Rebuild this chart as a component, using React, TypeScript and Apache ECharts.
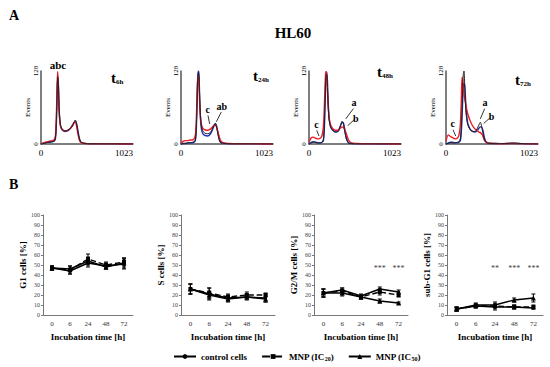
import React, { useEffect, useRef } from 'react';
import * as echarts from 'echarts';

const SERIF = "'Liberation Serif', 'Times New Roman', serif";

// ---- Panel A: DNA histograms (channel 0..1023, events 0..128)
const channels = [0, 25, 50, 75, 100, 125, 145, 160, 170, 178, 185, 192, 200, 210, 222, 240, 265, 295, 325, 350, 368, 382, 395, 410, 425, 440, 460, 490, 540, 620, 750, 900, 1023];

const t6Control = [0, 1, 2, 3, 4, 4, 5, 10, 35, 80, 118, 112, 70, 42, 30, 25, 23, 24, 27, 32, 38, 42, 36, 22, 10, 4, 2, 1, 0.5, 0.3, 0.2, 0.1, 0];
const t6IC20 = [0, 1, 2, 3, 3, 4, 5, 9, 32, 78, 115, 110, 68, 40, 29, 24, 22, 23, 27, 33, 38, 40, 36, 24, 11, 4, 2, 1, 0.5, 0.3, 0.2, 0.1, 0];
const t6IC50 = [0, 2, 3, 4, 5, 6, 7, 14, 45, 95, 127, 108, 62, 38, 29, 25, 23, 24, 27, 32, 37, 39, 32, 18, 8, 3, 1.5, 1, 0.5, 0.3, 0.2, 0.1, 0];

const t24Control = [0, 1, 1, 2, 2, 3, 4, 8, 28, 70, 110, 125, 118, 72, 38, 24, 19, 18, 20, 27, 33, 35, 30, 18, 8, 3, 1.5, 1, 0.5, 0.3, 0.2, 0.1, 0];
const t24IC20 = [0, 1, 1, 2, 2, 2, 3, 6, 25, 68, 112, 128, 122, 70, 32, 19, 15, 14, 17, 25, 32, 36, 32, 20, 8, 3, 1.5, 1, 0.5, 0.3, 0.2, 0.1, 0];
const t24IC50 = [1, 5, 6, 6, 7, 7, 9, 16, 40, 85, 112, 120, 104, 62, 38, 28, 25, 24, 26, 30, 33, 33, 30, 22, 13, 6, 3, 1.5, 0.8, 0.4, 0.2, 0.1, 0];

const t48Control = [0, 2, 3, 3, 2, 2, 3, 8, 30, 72, 108, 122, 118, 80, 45, 30, 24, 21, 22, 32, 40, 36, 24, 12, 5, 2, 1, 0.5, 0.3, 0.2, 0.1, 0.1, 0];
const t48IC20 = [0, 3, 4, 3, 2, 2, 3, 6, 25, 65, 105, 125, 126, 88, 48, 30, 24, 21, 23, 32, 38, 37, 28, 14, 6, 2, 1, 0.5, 0.3, 0.2, 0.1, 0.1, 0];
const t48IC50 = [3, 11, 12, 10, 9, 10, 15, 30, 62, 100, 124, 127, 110, 75, 48, 34, 27, 24, 24, 28, 30, 29, 26, 20, 13, 7, 3, 1.5, 0.8, 0.4, 0.2, 0.1, 0];

const t72Control = [0, 1, 2, 2, 2, 3, 4, 10, 30, 62, 95, 122, 128, 95, 55, 35, 26, 22, 22, 28, 34, 38, 32, 20, 9, 4, 2, 1, 0.8, 0.6, 1.5, 0.3, 0];
const t72IC20 = [0, 2, 3, 3, 2, 2, 3, 6, 20, 45, 75, 98, 106, 100, 65, 38, 27, 22, 21, 24, 28, 30, 30, 24, 13, 5, 2, 1, 0.8, 0.6, 1.2, 0.3, 0];
const t72IC50 = [5, 16, 13, 11, 9, 10, 16, 35, 75, 117, 112, 98, 88, 78, 68, 54, 42, 32, 26, 23, 21, 20, 18, 14, 7, 4, 2, 1.2, 0.8, 0.5, 1, 0.3, 0];

const histTimes = ['6h', '24h', '48h', '72h'];

// arrow annotations in data space: [label, fromX, fromY, toX, toY]
const t24Arrows: [string, number, number, number, number][] = [
  ['c', 300, 50, 319, 35],
  ['ab', 448, 56, 393, 39],
];
const t48Arrows: [string, number, number, number, number][] = [
  ['a', 493, 62, 408, 44],
  ['b', 512, 44, 430, 32],
  ['c', 86, 24, 111, 14],
];
const t72Arrows: [string, number, number, number, number][] = [
  ['a', 430, 62, 381, 44],
  ['b', 497, 47, 419, 36],
  ['c', 78, 25, 108, 14],
];

// ---- Panel B: cell-cycle phases
const timeLabels = ['0', '6', '24', '48', '72'];

const g1Control = [47, 44, 52, 49, 51];
const g1IC20 = [47, 45, 56, 50, 53];
const g1IC50 = [47, 46, 54, 48, 52];
const g1ControlSd = [2, 3, 4, 3, 5];
const g1IC20Sd = [2, 4, 5, 3, 4];
const g1IC50Sd = [2, 3, 4, 2, 5];

const sControl = [26, 21, 17, 18, 17];
const sIC20 = [26, 22, 18, 20, 20];
const sIC50 = [26, 20, 16, 18, 16];
const sControlSd = [5, 6, 3, 3, 4];
const sIC20Sd = [5, 5, 3, 3, 2];
const sIC50Sd = [5, 4, 3, 2, 3];

const g2mControl = [22, 25, 19, 26, 23];
const g2mIC20 = [22, 24, 18, 23, 20];
const g2mIC50 = [22, 22, 18, 14, 12];
const g2mControlSd = [4, 2, 2, 2, 2];
const g2mIC20Sd = [4, 3, 2, 3, 2];
const g2mIC50Sd = [4, 3, 2, 2, 1];

const subG1Control = [6, 9, 8, 8, 7];
const subG1IC20 = [6, 9, 9, 8, 8];
const subG1IC50 = [6, 10, 10, 15, 17];
const subG1ControlSd = [2, 2, 3, 2, 1];
const subG1IC20Sd = [2, 2, 2, 2, 2];
const subG1IC50Sd = [2, 2, 3, 2, 4];

const g1Stars = ['', '', '', '', ''];
const sStars = ['', '', '', '', ''];
const g2mStars = ['', '', '', '***', '***'];
const subG1Stars = ['', '', '**', '***', '***'];

const phaseNames = ['G1 cells [%]', 'S cells [%]', 'G2/M cells [%]', 'sub-G1 cells [%]'];

export default function App() {
  const ref = useRef<HTMLDivElement>(null);

  useEffect(() => {
    if (!ref.current) return;
    const chart = echarts.init(ref.current, undefined, { renderer: 'svg' });

    const histData = [
      [t6Control, t6IC20, t6IC50],
      [t24Control, t24IC20, t24IC50],
      [t48Control, t48IC20, t48IC50],
      [t72Control, t72IC20, t72IC50],
    ];
    const histArrows = [[], t24Arrows, t48Arrows, t72Arrows];
    const histLeft = [41, 181, 309, 446];

    const lineData = [
      [g1Control, g1IC20, g1IC50, g1ControlSd, g1IC20Sd, g1IC50Sd, g1Stars],
      [sControl, sIC20, sIC50, sControlSd, sIC20Sd, sIC50Sd, sStars],
      [g2mControl, g2mIC20, g2mIC50, g2mControlSd, g2mIC20Sd, g2mIC50Sd, g2mStars],
      [subG1Control, subG1IC20, subG1IC50, subG1ControlSd, subG1IC20Sd, subG1IC50Sd, subG1Stars],
    ];
    const lineLeft = [43, 181, 314, 447];
    const lineWidth = [90, 94, 94, 96];

    const grids: any[] = [];
    const xAxes: any[] = [];
    const yAxes: any[] = [];
    const series: any[] = [];

    histData.forEach((curves, i) => {
      grids.push({ left: histLeft[i], top: 71, width: 92, height: 73 });
      xAxes.push({
        gridIndex: i, type: 'value', min: 0, max: 1023, interval: 1023,
        axisLine: { lineStyle: { color: '#555', width: 1.5 } },
        axisTick: { show: false }, splitLine: { show: false },
        axisLabel: { fontSize: 9, fontFamily: SERIF, color: '#000', margin: 4, alignMaxLabel: 'right', formatter: (v: number) => String(v) },
      });
      yAxes.push({
        gridIndex: i, type: 'value', min: 0, max: 128, interval: 128,
        name: 'Events', nameLocation: 'middle', nameGap: 9,
        nameTextStyle: { fontSize: 7, fontFamily: SERIF, color: '#000' },
        axisLine: { show: true, lineStyle: { color: '#555', width: 1.5 } },
        axisTick: { show: false }, splitLine: { show: false },
        axisLabel: { fontSize: 7, fontFamily: SERIF, color: '#000', rotate: 90, margin: 2, formatter: (v: number) => String(v) },
      });
      const colors = ['#222222', '#2230b0', '#ee1c24'];
      const order = [1, 2, 0];
      order.forEach((k) => {
        const s: any = {
          type: 'line', name: 'hist' + k, xAxisIndex: i, yAxisIndex: i,
          data: channels.map((c, j) => [c, curves[k][j]]),
          symbol: 'none', smooth: 0.25,
          lineStyle: { color: colors[k], width: k === 0 ? 1 : 1.4 },
          z: 2 + (k === 0 ? 2 : k === 2 ? 1 : 0),
        };
        if (k === 0 && histArrows[i].length) {
          s.markLine = {
            silent: true, symbol: ['none', 'arrow'], symbolSize: [0, 5],
            lineStyle: { color: '#000', width: 0.8, type: 'solid' },
            label: { show: true, position: 'start', formatter: '{b}', fontFamily: SERIF, fontWeight: 'bold', fontSize: 10, color: '#000', distance: 1 },
            data: (histArrows[i] as any[]).map((a) => [
              { name: a[0], coord: [a[1], a[2]] },
              { coord: [a[3], a[4]] },
            ]),
          };
        }
        series.push(s);
      });
    });

    lineData.forEach((d, p) => {
      const gi = 4 + p;
      grids.push({ left: lineLeft[p], top: 215, width: lineWidth[p], height: 100 });
      xAxes.push({
        gridIndex: gi, type: 'category', data: timeLabels,
        name: 'Incubation time [h]', nameLocation: 'middle', nameGap: 17,
        nameTextStyle: { fontSize: 9, fontWeight: 'bold', fontFamily: SERIF, color: '#000' },
        axisLine: { lineStyle: { color: '#777', width: 1 } },
        axisTick: { length: 2, lineStyle: { color: '#777' } },
        axisLabel: { fontSize: 7, fontFamily: SERIF, color: '#333', margin: 5 },
      });
      yAxes.push({
        gridIndex: gi, type: 'value', min: 0, max: 100, interval: 10,
        name: phaseNames[p], nameLocation: 'middle', nameGap: 16,
        nameTextStyle: { fontSize: 9, fontWeight: 'bold', fontFamily: SERIF, color: '#000' },
        axisLine: { show: true, lineStyle: { color: '#777', width: 1 } },
        axisTick: { show: true, length: 2, lineStyle: { color: '#777' } },
        splitLine: { show: false },
        axisLabel: { fontSize: 6, fontFamily: SERIF, color: '#444', margin: 3 },
      });
      const names = ['control cells', 'MNP (IC20)', 'MNP (IC50)'];
      const symbols = ['circle', 'rect', 'triangle'];
      const sizes = [3, 4, 5];
      [0, 1, 2].forEach((k) => {
        const means = d[k] as number[];
        const sds = d[3 + k] as number[];
        series.push({
          type: 'custom', name: 'err' + k, xAxisIndex: gi, yAxisIndex: gi,
          data: means.map((m, j) => [j, m - sds[j], m + sds[j]]),
          encode: { x: 0, y: [1, 2] }, silent: true, z: 3,
          renderItem: (params: any, api: any) => {
            const x = api.value(0);
            const lo = api.coord([x, api.value(1)]);
            const hi = api.coord([x, api.value(2)]);
            const w = 2;
            const st = { stroke: '#000', lineWidth: 1 };
            return {
              type: 'group',
              children: [
                { type: 'line', shape: { x1: lo[0], y1: lo[1], x2: hi[0], y2: hi[1] }, style: st },
                { type: 'line', shape: { x1: lo[0] - w, y1: lo[1], x2: lo[0] + w, y2: lo[1] }, style: st },
                { type: 'line', shape: { x1: hi[0] - w, y1: hi[1], x2: hi[0] + w, y2: hi[1] }, style: st },
              ],
            };
          },
        });
        series.push({
          type: 'line', name: names[k], xAxisIndex: gi, yAxisIndex: gi,
          data: means, symbol: symbols[k], symbolSize: sizes[k], showSymbol: true,
          lineStyle: { color: '#000', width: 1.4, type: k === 1 ? 'dashed' : 'solid' },
          itemStyle: { color: '#000' }, z: 4,
        });
      });
      const stars = d[6] as string[];
      series.push({
        type: 'scatter', name: 'stars', xAxisIndex: gi, yAxisIndex: gi,
        data: stars.map((s, j) => [j, 47, s]).filter((v) => v[2] !== ''),
        symbolSize: 1, itemStyle: { color: 'rgba(0,0,0,0)' }, silent: true,
        label: { show: true, position: 'inside', formatter: (pp: any) => pp.value[2], fontSize: 8, fontFamily: SERIF, color: '#000' },
      });
    });

    const tPos = [[111, 70], [253, 68], [377, 64], [515, 72]];
    const tTexts: any[] = [];
    histTimes.forEach((t, i) => {
      tTexts.push({ type: 'text', x: tPos[i][0], y: tPos[i][1], style: { text: 't', font: `bold 15px ${SERIF}`, fill: '#000' } });
      tTexts.push({ type: 'text', x: tPos[i][0] + 5, y: tPos[i][1] + 8, style: { text: t, font: `bold 7px ${SERIF}`, fill: '#000' } });
    });

    chart.setOption({
      animation: false,
      backgroundColor: '#fff',
      grid: grids,
      xAxis: xAxes,
      yAxis: yAxes,
      series,
      legend: {
        left: 168, top: 347, itemWidth: 22, itemHeight: 6, itemGap: 14,
        data: ['control cells', 'MNP (IC20)', 'MNP (IC50)'],
        formatter: (n: string) => n.replace(/IC(\d+)/, 'IC{sub|$1}'),
        textStyle: {
          fontFamily: SERIF, fontWeight: 'bold', fontSize: 9, color: '#000',
          rich: { sub: { fontSize: 6, fontWeight: 'bold', fontFamily: SERIF, color: '#000', padding: [4, 0, 0, 0] } },
        },
      },
      graphic: [
        { type: 'text', left: 9, top: 8, style: { text: 'A', font: `bold 14px ${SERIF}`, fill: '#000' } },
        { type: 'text', left: 9, top: 177, style: { text: 'B', font: `bold 14px ${SERIF}`, fill: '#000' } },
        { type: 'text', x: 293, y: 33, style: { text: 'HL60', font: `bold 15px ${SERIF}`, fill: '#000', textAlign: 'center', textVerticalAlign: 'middle' } },
        { type: 'text', x: 58, y: 65, style: { text: 'abc', font: `bold 11px ${SERIF}`, fill: '#000', textAlign: 'center', textVerticalAlign: 'middle' } },
        ...tTexts,
      ],
    });

    return () => chart.dispose();
  }, []);

  return <div ref={ref} style={{ position: 'absolute', left: 0, top: 0, width: 550, height: 367 }} />;
}
